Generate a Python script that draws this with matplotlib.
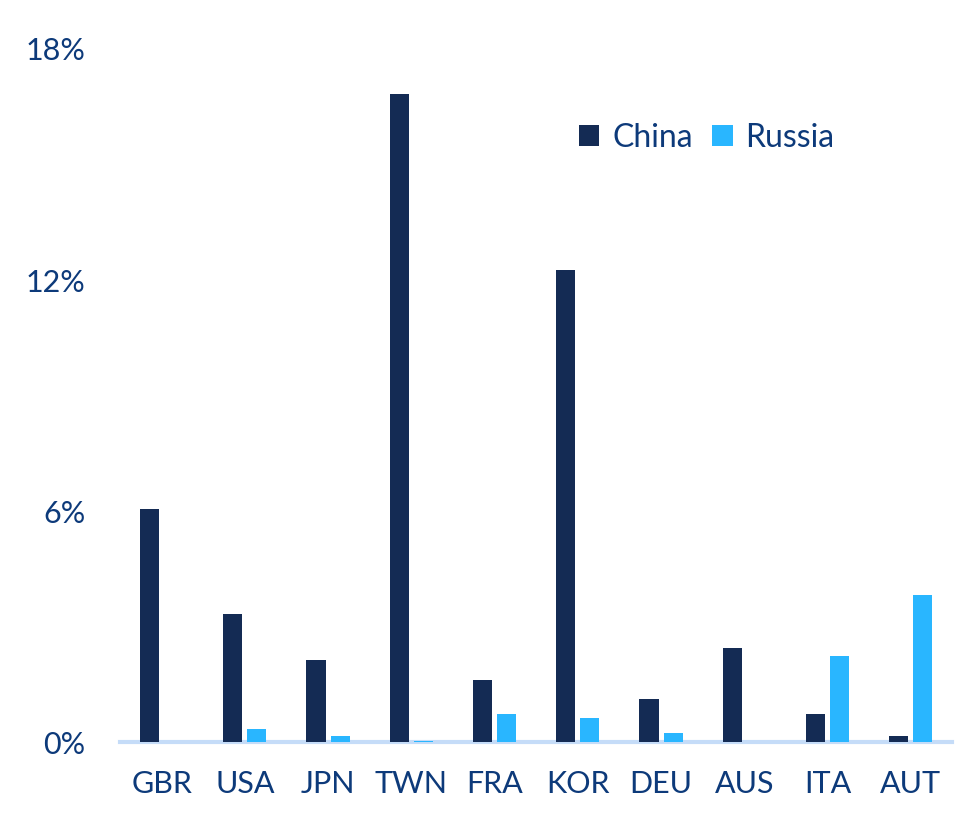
import numpy as np
import matplotlib.pyplot as plt

countries = ["GBR", "USA", "JPN", "TWN", "FRA", "KOR", "DEU", "AUS", "ITA", "AUT"]
china = [6.05, 3.32, 2.13, 16.83, 1.61, 12.26, 1.12, 2.44, 0.73, 0.16]
russia = [0.0, 0.34, 0.16, 0.03, 0.73, 0.62, 0.23, 0.0, 2.23, 3.82]
yticks = [0, 6, 12, 18]

text_color = "#0D3A7A"
china_color = "#142B54"
russia_color = "#29B6FF"

plt.rcParams['font.family'] = ['Lato', 'DejaVu Sans']

fig = plt.figure(figsize=(9.62, 8.36), dpi=100)
ax = fig.add_axes([0.1247, 0.1124, 0.8653, 0.829])

x = np.arange(len(countries))
w = 0.23
ax.bar(x - 0.145, china, w, color=china_color, label="China")
ax.bar(x + 0.145, russia, w, color=russia_color, label="Russia")

ax.set_xlim(-0.5, len(countries) - 0.5)
ax.set_ylim(0, 18)
ax.set_yticks(yticks)
ax.set_yticklabels([f"{t}%" for t in yticks])
ax.set_xticks(x)
ax.set_xticklabels(countries)

for s in ["top", "right", "left"]:
    ax.spines[s].set_visible(False)
ax.spines["bottom"].set_color("#C5DCF8")
ax.spines["bottom"].set_linewidth(3)
ax.spines["bottom"].set_zorder(0)

ax.tick_params(axis="y", length=0, pad=25, labelsize=22, labelcolor=text_color)
ax.tick_params(axis="x", length=0, pad=20, labelsize=22, labelcolor=text_color)

ax.legend(loc="upper right", bbox_to_anchor=(0.893, 0.935), ncol=2, frameon=False,
          fontsize=23, labelcolor=text_color, handlelength=0.65, handleheight=0.65,
          handletextpad=0.4, columnspacing=0.6)

fig.savefig("out.png", dpi=100)
